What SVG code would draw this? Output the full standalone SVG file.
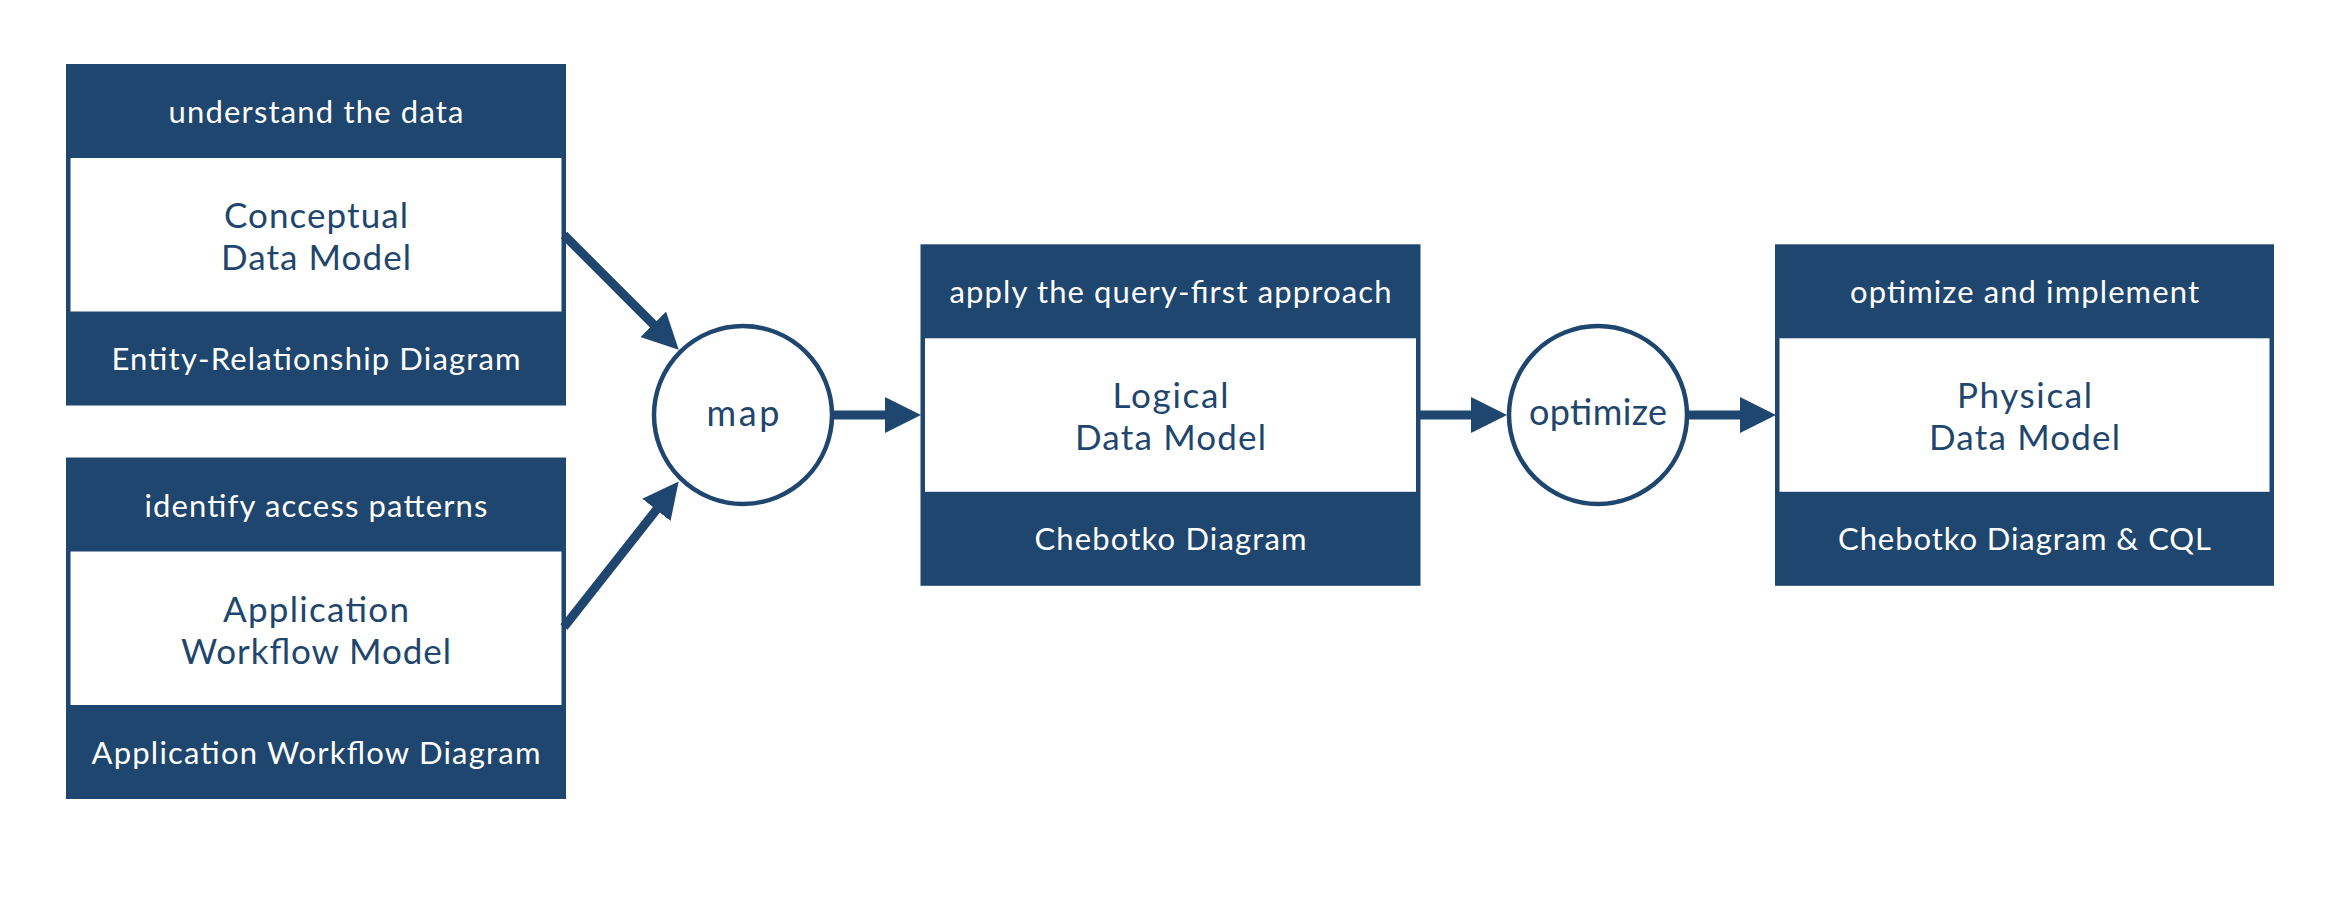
<svg xmlns="http://www.w3.org/2000/svg" width="2348" height="914" viewBox="0 0 2348 914">
<style>
.frame{fill:#1f466e}
.inner{fill:#ffffff}
.hd{font-family:Lato,"Open Sans",sans-serif;font-size:31px;fill:#ffffff;text-anchor:middle}
.md{font-family:Lato,"Open Sans",sans-serif;font-size:35px;fill:#1f466e;text-anchor:middle}
.ct{font-family:Lato,"Open Sans",sans-serif;font-size:36px;fill:#1f466e;text-anchor:middle}
.circ{fill:#ffffff;stroke:#1f466e;stroke-width:4.5}
.conn{stroke:#1f466e;stroke-width:9;fill:none;marker-end:url(#ah)}
</style>
<defs>
<marker id="ah" markerUnits="userSpaceOnUse" viewBox="0 0 36 36" markerWidth="36" markerHeight="36" refX="1" refY="18" orient="auto">
<path d="M0,0 L36,18 L0,36 Z" fill="#1f466e"/>
</marker>
</defs>
<rect width="2348" height="914" fill="#ffffff"/>

<g id="conceptual">
<rect class="frame" x="66" y="64" width="500" height="341.5"/>
<rect class="inner" x="70.5" y="158" width="491" height="153.5"/>
<text class="hd" x="316" y="123" textLength="295">understand the data</text>
<text class="md" x="316" y="227.5" textLength="184">Conceptual</text>
<text class="md" x="316" y="270" textLength="190">Data Model</text>
<text class="hd" x="316" y="370" textLength="409">Entity-Relationship Diagram</text>
</g>

<g id="workflow">
<rect class="frame" x="66" y="457.5" width="500" height="341.5"/>
<rect class="inner" x="70.5" y="551.5" width="491" height="153.5"/>
<text class="hd" x="316" y="516.5" textLength="343">identify access patterns</text>
<text class="md" x="316" y="621.5" textLength="186">Application</text>
<text class="md" x="316" y="663.5" textLength="270">Workflow Model</text>
<text class="hd" x="316" y="764" textLength="449">Application Workflow Diagram</text>
</g>

<g id="map">
<circle class="circ" cx="743" cy="415" r="89"/>
<text class="ct" x="743" y="426" textLength="73">map</text>
</g>

<g id="logical">
<rect class="frame" x="920.5" y="244.3" width="500" height="341.5"/>
<rect class="inner" x="925" y="338.3" width="491" height="153.5"/>
<text class="hd" x="1170.5" y="303.3" textLength="442">apply the query-first approach</text>
<text class="md" x="1170.5" y="407.7" textLength="116">Logical</text>
<text class="md" x="1170.5" y="450" textLength="191">Data Model</text>
<text class="hd" x="1170.5" y="550" textLength="272">Chebotko Diagram</text>
</g>

<g id="optimize">
<circle class="circ" cx="1598" cy="415" r="89"/>
<text class="ct" x="1598" y="425" textLength="138">optimize</text>
</g>

<g id="physical">
<rect class="frame" x="1775" y="244.3" width="499" height="341.5"/>
<rect class="inner" x="1779.5" y="338.3" width="490" height="153.5"/>
<text class="hd" x="2024.5" y="303.3" textLength="349">optimize and implement</text>
<text class="md" x="2024.5" y="407.7" textLength="135">Physical</text>
<text class="md" x="2024.5" y="450" textLength="191">Data Model</text>
<text class="hd" x="2024.5" y="550" textLength="373">Chebotko Diagram &amp; CQL</text>
</g>

<g id="connectors">
<line class="conn" x1="564" y1="235" x2="654" y2="325"/>
<line class="conn" x1="564" y1="627" x2="657" y2="509"/>
<line class="conn" x1="834" y1="415" x2="886" y2="415"/>
<line class="conn" x1="1420" y1="415" x2="1472" y2="415"/>
<line class="conn" x1="1689" y1="415" x2="1741" y2="415"/>
</g>
</svg>
